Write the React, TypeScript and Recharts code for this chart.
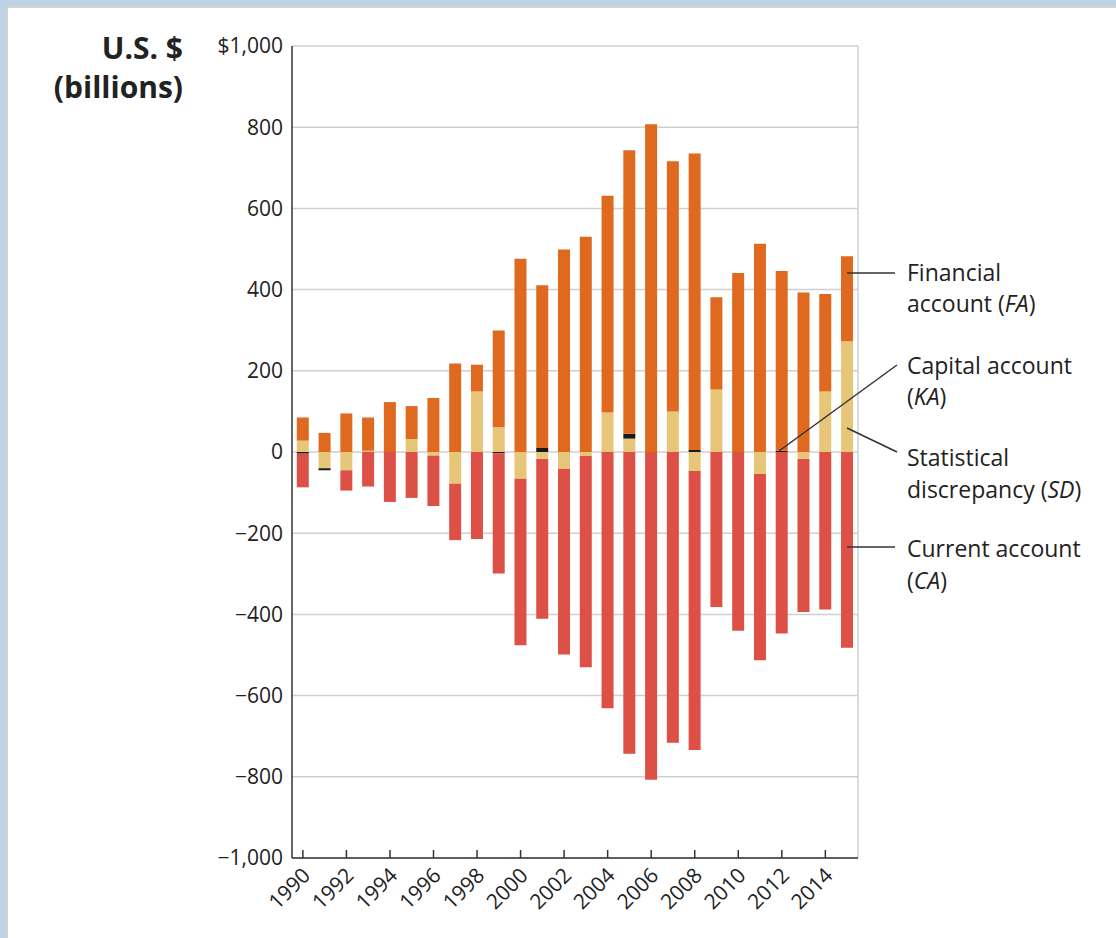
import React from 'react';
import { BarChart, Bar, XAxis, YAxis, CartesianGrid } from 'recharts';

const years = [1990, 1991, 1992, 1993, 1994, 1995, 1996, 1997, 1998, 1999, 2000, 2001, 2002, 2003, 2004, 2005, 2006, 2007, 2008, 2009, 2010, 2011, 2012, 2013, 2014, 2015];
const currentAccount = [-83, 0, -50, -85, -123, -113, -124, -139, -214, -296, -410, -394, -458, -520, -631, -743, -807, -716, -687, -382, -440, -459, -447, -377, -388, -482];
const statDiscrepancy = [28, -40, -45, 3, 0, 32, -9, -78, 149, 61, -66, -17, -41, -10, 97, 33, 0, 100, -47, 154, 0, -54, 0, -17, 149, 273];
const capitalAccount = [-4, -5, 0, 0, 0, 0, 0, 0, 0, -3, 0, 10, 0, 0, 0, 12, 0, 0, 5, 0, 0, 0, 3, 0, 0, 0];
const financialAccount = [57, 47, 95, 82, 123, 81, 133, 218, 66, 238, 476, 401, 499, 530, 534, 698, 807, 616, 730, 227, 441, 513, 443, 393, 240, 209];
const yTicks = [-1000, -800, -600, -400, -200, 0, 200, 400, 600, 800, 1000];

const data = years.map((year, i) => ({
  year,
  CA: currentAccount[i],
  SD: statDiscrepancy[i],
  KA: capitalAccount[i],
  FA: financialAccount[i],
}));

const FONT = '"Open Sans", "Noto Sans", sans-serif';
const TEXT = '#222';

const fmtY = (v: number) => {
  const s = Math.abs(v).toLocaleString('en-US');
  if (v === 1000) return `$${s}`;
  if (v < 0) return `\u2212${s}`;
  return s;
};

const XTick = (props: any) => {
  const { x, y, payload } = props;
  return (
    <g>
      <line x1={x} y1={y} x2={x} y2={y - 8} stroke="#333" strokeWidth={1.5} />
      <text
        x={0}
        y={0}
        transform={`translate(${x + 3},${y + 13}) rotate(-45)`}
        textAnchor="end"
        dominantBaseline="central"
        fontSize={21}
        fill={TEXT}
        fontFamily={FONT}
      >
        {payload.value}
      </text>
    </g>
  );
};

export default function App() {
  return (
    <div style={{ position: 'absolute', left: 0, top: 0, width: 1116, height: 938, background: '#bfd1e7', overflow: 'hidden' }}>
      <div style={{ position: 'absolute', left: 6, top: 6, right: 0, bottom: 0, background: '#fff', borderTop: '2px solid #d2d2d2', borderLeft: '2px solid #d2d2d2' }} />
      <div style={{ position: 'absolute', left: 0, top: 0 }}>
        <BarChart
          width={1116}
          height={938}
          data={data}
          stackOffset="sign"
          barCategoryGap="22%"
          margin={{ top: 46, right: 258, bottom: 8, left: 0 }}
        >
          <CartesianGrid
            stroke="#cfcfcf"
            strokeWidth={1.5}
            verticalCoordinatesGenerator={(p: any) => [p.offset.left + p.offset.width]}
          />
          <XAxis
            dataKey="year"
            interval={1}
            height={72}
            tickLine={false}
            tickSize={0}
            tickMargin={0}
            axisLine={{ stroke: '#333', strokeWidth: 1.5 }}
            tick={<XTick />}
          />
          <YAxis
            width={292}
            domain={[-1000, 1000]}
            ticks={yTicks}
            tickFormatter={fmtY}
            tickLine={false}
            tickSize={0}
            tickMargin={9}
            axisLine={{ stroke: '#333', strokeWidth: 1.5 }}
            tick={{ fontSize: 21, fill: TEXT, fontFamily: FONT }}
            interval={0}
          />
          <Bar dataKey="SD" stackId="a" fill="#e7c579" isAnimationActive={false} />
          <Bar dataKey="KA" stackId="a" fill="#1a1a1a" isAnimationActive={false} />
          <Bar dataKey="FA" stackId="a" fill="#df691f" isAnimationActive={false} />
          <Bar dataKey="CA" stackId="a" fill="#dc5046" isAnimationActive={false} />
        </BarChart>
      </div>
      <svg width={1116} height={938} style={{ position: 'absolute', left: 0, top: 0, pointerEvents: 'none' }}>
        <g fontFamily={FONT} fill={TEXT}>
          <text x={183} y={47} textAnchor="end" dominantBaseline="central" fontSize={30} fontWeight="bold">U.S. $</text>
          <text x={183} y={86} textAnchor="end" dominantBaseline="central" fontSize={30} fontWeight="bold">(billions)</text>
        </g>
        <g stroke="#333" strokeWidth={1.5}>
          <line x1={847} y1={273} x2={895} y2={273} />
          <line x1={779} y1={451} x2={897} y2={365} />
          <line x1={847} y1={428} x2={897} y2={452} />
          <line x1={847} y1={547} x2={895} y2={547} />
        </g>
        <g fontFamily={FONT} fill={TEXT} fontSize={23} dominantBaseline="central">
          <text x={907} y={272}>Financial</text>
          <text x={907} y={303}>account (<tspan fontStyle="italic">FA</tspan>)</text>
          <text x={907} y={365}>Capital account</text>
          <text x={907} y={396}>(<tspan fontStyle="italic">KA</tspan>)</text>
          <text x={907} y={457}>Statistical</text>
          <text x={907} y={489}>discrepancy (<tspan fontStyle="italic">SD</tspan>)</text>
          <text x={907} y={548}>Current account</text>
          <text x={907} y={580}>(<tspan fontStyle="italic">CA</tspan>)</text>
        </g>
      </svg>
    </div>
  );
}
